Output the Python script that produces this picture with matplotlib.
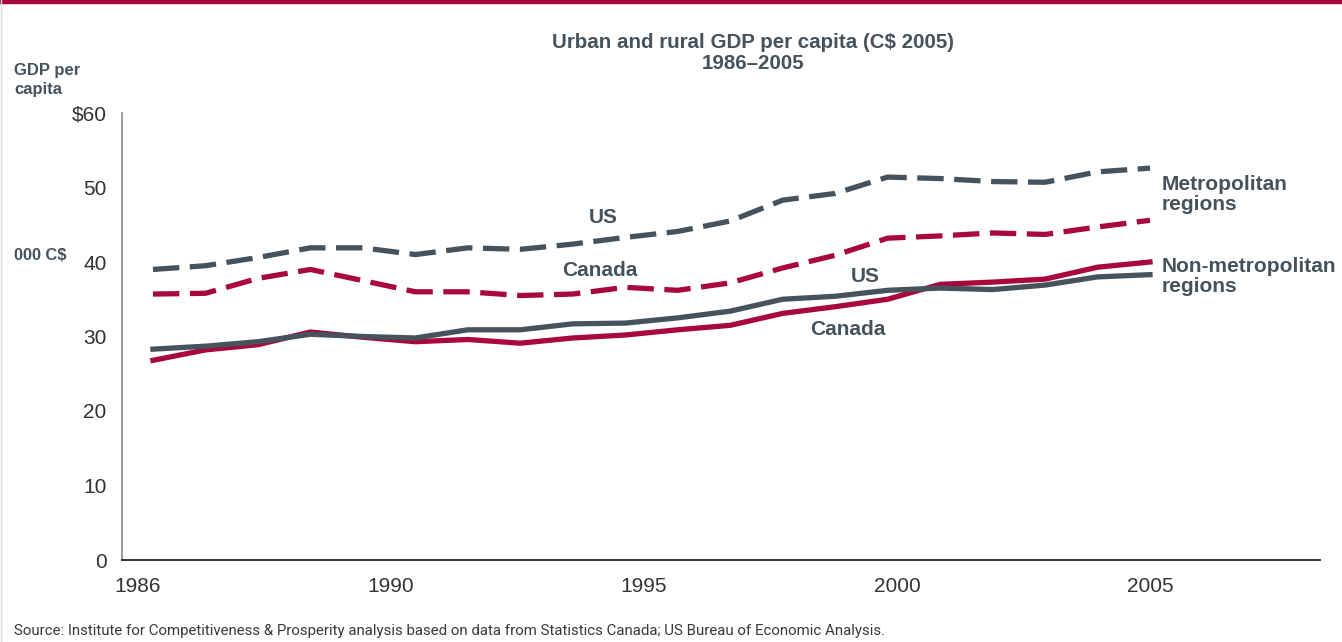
import matplotlib.pyplot as plt
import numpy as np
from matplotlib.lines import Line2D

years = list(range(1986, 2006))

# GDP per capita, thousands of 2005 C$
us_metro = [39.0, 39.5, 40.6, 41.9, 41.9, 41.0, 41.9, 41.7, 42.4, 43.3,
            44.1, 45.5, 48.3, 49.2, 51.4, 51.2, 50.8, 50.7, 52.1, 52.6]
canada_metro = [35.7, 35.8, 37.8, 39.0, 37.5, 36.0, 36.0, 35.5, 35.7, 36.6,
                36.2, 37.2, 39.2, 40.9, 43.2, 43.5, 43.9, 43.7, 44.7, 45.6]
us_nonmetro = [28.3, 28.7, 29.3, 30.3, 30.0, 29.8, 30.9, 30.9, 31.7, 31.8,
               32.5, 33.4, 35.0, 35.4, 36.2, 36.5, 36.3, 36.9, 38.0, 38.3]
canada_nonmetro = [26.8, 28.2, 28.9, 30.6, 29.9, 29.3, 29.6, 29.1, 29.8, 30.2,
                   30.9, 31.5, 33.1, 34.0, 35.0, 37.0, 37.3, 37.7, 39.3, 40.0]

x_labels = ['1986', '1990', '1995', '2000', '2005']
y_ticks = [0, 10, 20, 30, 40, 50, 60]
y_labels = ['0', '10', '20', '30', '40', '50', '$60']

RED = '#A8083C'
GRAY = '#46535D'
TEXT = '#46535D'
SANS = ['Liberation Sans', 'DejaVu Sans']

fig = plt.figure(figsize=(13.42, 6.42), dpi=100)
ax = fig.add_axes([122 / 1342, 82 / 642, 1198 / 1342, 447 / 642])

lw = 3.8
dash = (0, (5.0, 2.0))
ax.plot(years, us_metro, color=GRAY, lw=lw, ls=dash, dash_capstyle='butt')
ax.plot(years, canada_metro, color=RED, lw=lw, ls=dash, dash_capstyle='butt')
ax.plot(years, canada_nonmetro, color=RED, lw=lw, solid_joinstyle='miter')
ax.plot(years, us_nonmetro, color=GRAY, lw=lw, solid_joinstyle='miter')

ax.set_xlim(1985.41, 2008.24)
ax.set_ylim(0, 60)
ax.set_xticks(np.linspace(1985.714, 2005, len(x_labels)))
ax.set_xticklabels(x_labels)
ax.set_yticks(y_ticks)
ax.set_yticklabels(y_labels)
ax.tick_params(length=0, labelsize=15, labelcolor='#333333')
ax.tick_params(axis='x', pad=12)
ax.tick_params(axis='y', pad=11)
for lab in ax.get_xticklabels() + ax.get_yticklabels():
    lab.set_family(SANS)

ax.spines['top'].set_visible(False)
ax.spines['right'].set_visible(False)
ax.spines['left'].set_color('#8a8a8a')
ax.spines['left'].set_linewidth(1.2)
ax.spines['bottom'].set_color('#333333')
ax.spines['bottom'].set_linewidth(1.4)

lab_font = dict(family=SANS, fontsize=15, color=TEXT, fontweight='bold')
ax.text(1994.58, 46.0, 'US', ha='center', va='center', **lab_font)
ax.text(1994.52, 38.8, 'Canada', ha='center', va='center', **lab_font)
ax.text(1999.57, 38.1, 'US', ha='center', va='center', **lab_font)
ax.text(1999.25, 31.0, 'Canada', ha='center', va='center', **lab_font)
ax.text(2005.23, 49.1, 'Metropolitan\nregions', ha='left', va='center',
        linespacing=1.08, **lab_font)
ax.text(2005.23, 38.0, 'Non-metropolitan\nregions', ha='left', va='center',
        linespacing=1.08, **lab_font)

fig.text(753 / 1342, 1 - 53 / 642, 'Urban and rural GDP per capita (C$ 2005)\n1986\u20132005',
         ha='center', va='center', fontsize=14.8, fontweight='bold',
         color=TEXT, family=SANS, linespacing=1.1)
fig.text(14 / 1342, 1 - 80 / 642, 'GDP per\ncapita', ha='left', va='center',
         fontsize=12, fontweight='bold', color=TEXT, family=SANS,
         linespacing=1.3)
fig.text(14 / 1342, 1 - 255 / 642, '000 C$', ha='left', va='center',
         fontsize=11.8, fontweight='bold', color=TEXT, family=SANS)
fig.text(14 / 1342, 1 - 631 / 642,
         'Source: Institute for Competitiveness & Prosperity analysis based on data from '
         'Statistics Canada; US Bureau of Economic Analysis.',
         ha='left', va='center', fontsize=10.8, color='#3a3a3a',
         family=['Roboto', 'DejaVu Sans'])

# red band across the top and thin border on the left
fig.add_artist(Line2D([0, 1], [1 - 2 / 642, 1 - 2 / 642], color=RED, lw=3.2,
                      transform=fig.transFigure))
fig.add_artist(Line2D([0.5 / 1342, 0.5 / 1342], [0, 1], color='#dddddd', lw=1,
                      transform=fig.transFigure))

fig.savefig('out.png', dpi=100)
